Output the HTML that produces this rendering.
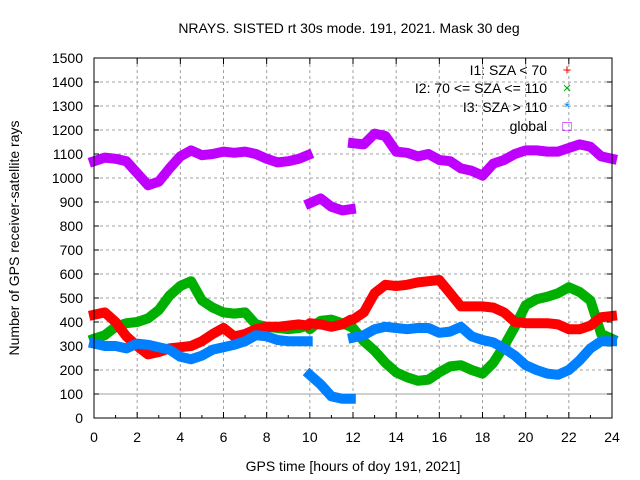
<!DOCTYPE html>
<html><head><meta charset="utf-8"><style>
body{margin:0;background:#fff}
svg{display:block;font-family:"Liberation Sans",sans-serif}
</style></head><body>
<svg id="chart" width="640" height="480">
<text x="349" y="33" text-anchor="middle" font-size="14">NRAYS. SISTED rt 30s mode. 191, 2021. Mask 30 deg</text>
<text transform="translate(19,238) rotate(-90)" text-anchor="middle" font-size="14">Number of GPS receiver-satellite rays</text>
<text x="353" y="471" text-anchor="middle" font-size="14">GPS time [hours of doy 191, 2021]</text>
<g id="grid"></g>
<g id="ticks"></g>
<g id="series"></g>
<rect x="94" y="58" width="518" height="360" fill="none" stroke="#000"/>
<g id="legend"></g>
</svg>
<script>
const times=[0,0.5,1,1.5,2,2.5,3,3.5,4,4.5,5,5.5,6,6.5,7,7.5,8,8.5,9,9.5,9.9,10,10.5,11,11.5,11.9,12,12.5,13,13.5,14,14.5,15,15.5,16,16.5,17,17.5,18,18.5,19,19.5,20,20.5,21,21.5,22,22.5,23,23.5,24];
const globalVals=[1070,1085,1080,1070,1020,970,985,1040,1090,1115,1095,1100,1110,1105,1110,1100,1080,1065,1070,1080,1095,895,915,880,865,870,1145,1140,1185,1175,1110,1105,1090,1100,1075,1070,1040,1030,1010,1060,1075,1100,1115,1115,1110,1110,1125,1140,1130,1090,1080];
const i1Vals=[430,440,400,340,300,265,275,290,295,300,320,350,375,340,350,370,380,380,385,390,385,395,390,380,390,410,410,440,520,555,550,555,565,570,575,520,465,465,465,460,440,400,395,395,395,390,370,370,385,420,425];
const i2Vals=[330,345,380,395,400,415,450,510,550,570,490,460,440,435,440,390,380,375,370,375,385,370,405,410,395,380,375,320,280,230,190,170,155,160,190,215,220,200,185,230,300,380,470,495,505,520,545,525,490,350,330];
const i3Vals=[310,300,300,290,310,305,295,285,255,245,260,285,295,305,320,345,340,325,320,320,320,180,140,90,80,80,335,345,370,380,375,370,375,375,355,360,380,340,325,315,290,260,220,200,185,180,200,240,290,320,320];
const yTicks=[0,100,200,300,400,500,600,700,800,900,1000,1100,1200,1300,1400,1500];
const xTicks=[0,2,4,6,8,10,12,14,16,18,20,22,24];
const NS="http://www.w3.org/2000/svg";
const X=t=>94+t*518/24, Y=v=>418-v*0.24;
function mk(tag,attrs,parent){const e=document.createElementNS(NS,tag);for(const k in attrs)e.setAttribute(k,attrs[k]);parent.appendChild(e);return e;}
const grid=document.getElementById('grid'),ticks=document.getElementById('ticks');
yTicks.forEach(v=>{
  if(v>0&&v<1500){const l=mk('line',{x1:94,x2:612,y1:Y(v),y2:Y(v),stroke:'#a0a0a0','stroke-dasharray':'3,3'},grid);}
  mk('line',{x1:94,x2:99,y1:Y(v),y2:Y(v),stroke:'#000'},ticks);
  mk('line',{x1:607,x2:612,y1:Y(v),y2:Y(v),stroke:'#000'},ticks);
  const t=mk('text',{x:83,y:Y(v)+5,'text-anchor':'end','font-size':14},ticks);t.textContent=v;
  
});
xTicks.forEach(v=>{
  if(v>0&&v<24){const l=mk('line',{x1:X(v),x2:X(v),y1:58,y2:418,stroke:'#a0a0a0','stroke-dasharray':'3,3'},grid);}
  mk('line',{x1:X(v),x2:X(v),y1:418,y2:412,stroke:'#000'},ticks);
  mk('line',{x1:X(v),x2:X(v),y1:58,y2:64,stroke:'#000'},ticks);
  const t=mk('text',{x:X(v),y:442,'text-anchor':'middle','font-size':14},ticks);t.textContent=v;
  
});
for(let v=1;v<24;v+=2){mk('line',{x1:X(v),x2:X(v),y1:418,y2:415,stroke:'#000'},ticks);}
const ref=mk('line',{x1:94,x2:612,y1:Y(100),y2:Y(100),stroke:'#a0a0a0'},grid);


const sg=document.getElementById('series');
const defs=[['global',globalVals,'#c000ff'],['i2',i2Vals,'#00b000'],['i1',i1Vals,'#ff0000'],['i3',i3Vals,'#0080ff']];
defs.forEach(([name,vals,col])=>{
  const g=mk('g',{},sg);
  
  
  const segs=[[]];
  vals.forEach((v,i)=>{
    if(i>0&&(times[i]-times[i-1])<0.2&&Math.abs(v-vals[i-1])>60)segs.push([]);
    segs[segs.length-1].push(X(times[i]).toFixed(1)+','+Y(v).toFixed(1));
  });
  segs.forEach(s=>{const p=mk('polyline',{points:s.join(' '),fill:'none',stroke:col,'stroke-width':10,'stroke-linejoin':'round','stroke-linecap':'square'},g);});
});
const lg=document.getElementById('legend');
[['I1: SZA < 70','#ff0000','+',70],['I2: 70 <= SZA <= 110','#00b000','×',88],['I3: SZA > 110','#0080ff','*',107],['global','#c000ff','□',126]].forEach(([lab,col,sym,y])=>{
  const t=mk('text',{x:547,y:y+5,'text-anchor':'end','font-size':14},lg);t.textContent=lab;
  
  const s=mk('text',{x:567,y:y+5,'text-anchor':'middle','font-size':15,fill:col},lg);s.textContent=sym;
  
});
</script>
</body></html>
